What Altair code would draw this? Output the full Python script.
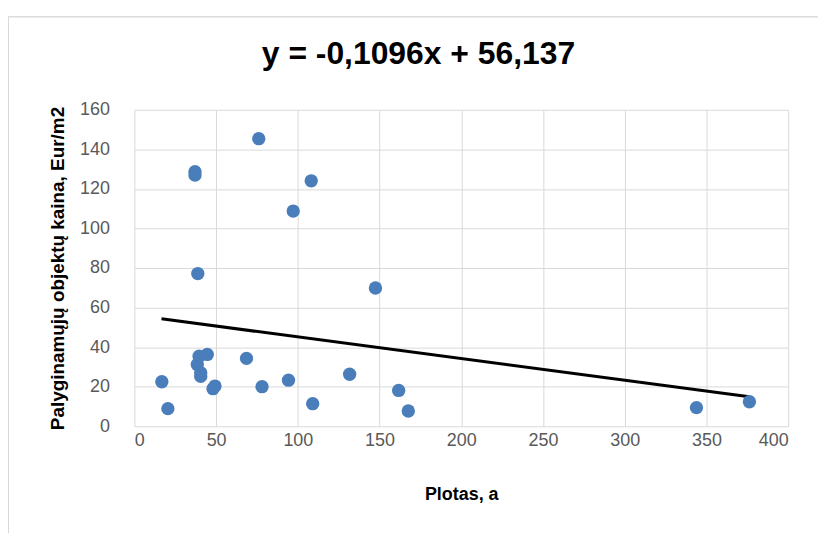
import altair as alt
import pandas as pd

# Comparable objects: area (a) and price (Eur/m2)
area = [16.8, 20.5, 37.1, 37.1, 38.8, 39.6, 44.6, 38.5, 40.6, 40.6, 48.1, 49.3,
        68.6, 76.1, 78.1, 94.3, 97.2, 108.2, 109.1, 131.7, 147.5, 161.7, 167.6,
        343.9, 376.3]
price = [22.5, 8.9, 128.7, 127.0, 77.2, 35.4, 36.3, 31.2, 27.0, 25.2, 19.0, 20.3,
         34.3, 145.4, 20.0, 23.3, 108.8, 124.1, 11.4, 26.3, 69.9, 18.1, 7.7,
         9.4, 12.4]

# Linear trend line end points (as drawn)
trend_x = [16.6, 376.3]
trend_y = [54.3, 14.9]

x_ticks = [0, 50, 100, 150, 200, 250, 300, 350, 400]
y_ticks = [0, 20, 40, 60, 80, 100, 120, 140, 160]

title_text = "y = -0,1096x + 56,137"
x_title = "Plotas, a"
y_title = "Palyginamųjų objektų kaina, Eur/m2"

pts = pd.DataFrame({"x": area, "y": price})
trend = pd.DataFrame({"x": trend_x, "y": trend_y})

FONT = "Liberation Sans"
BORDER = "#D9D9D9"

x_enc = alt.X("x:Q",
              scale=alt.Scale(domain=[0, 400], nice=False, zero=True),
              axis=alt.Axis(values=x_ticks, title=x_title, labelPadding=5,
                            titlePadding=37, labelOverlap=False,
                            titleFontSize=18))
y_enc = alt.Y("y:Q",
              scale=alt.Scale(domain=[0, 160], nice=False, zero=True),
              axis=alt.Axis(values=y_ticks, title=y_title, labelPadding=25,
                            titlePadding=12, labelOverlap=False,
                            titleFontSize=19))

points = alt.Chart(pts).mark_circle(size=180, color="#4A7EBB", opacity=1).encode(
    x=x_enc, y=y_enc
)

line = alt.Chart(trend).mark_line(color="#000000", strokeWidth=3).encode(
    x=x_enc, y=y_enc
)

# light chart-area frame (left and top edges)
frame_left = alt.Chart(trend).mark_rule(color=BORDER, strokeWidth=1).encode(
    x=alt.value(-126.5), y=alt.value(-93.5), y2=alt.value(440)
)
frame_top = alt.Chart(trend).mark_rule(color=BORDER, strokeWidth=1).encode(
    x=alt.value(-126.5), x2=alt.value(700), y=alt.value(-93.5)
)

chart = alt.layer(frame_left, frame_top, line, points).properties(
    width=657,
    height=318,
    autosize=alt.AutoSizeParams(type="none"),
    padding={"left": 127, "top": 101, "right": 30, "bottom": 110},
    title=alt.TitleParams(
        text=title_text,
        font=FONT,
        fontSize=32,
        fontWeight="bold",
        color="#000000",
        anchor="middle",
        dx=-43,
        offset=-55,
    ),
).configure_view(
    stroke=None
).configure_axis(
    domain=False,
    ticks=False,
    grid=True,
    gridColor="#D9D9D9",
    gridWidth=1,
    labelFont=FONT,
    labelFontSize=18,
    labelColor="#595959",
    titleFont=FONT,
    titleFontWeight="bold",
    titleColor="#000000",
)

chart.save("out.html", embed_options={"renderer": "svg", "actions": False})
